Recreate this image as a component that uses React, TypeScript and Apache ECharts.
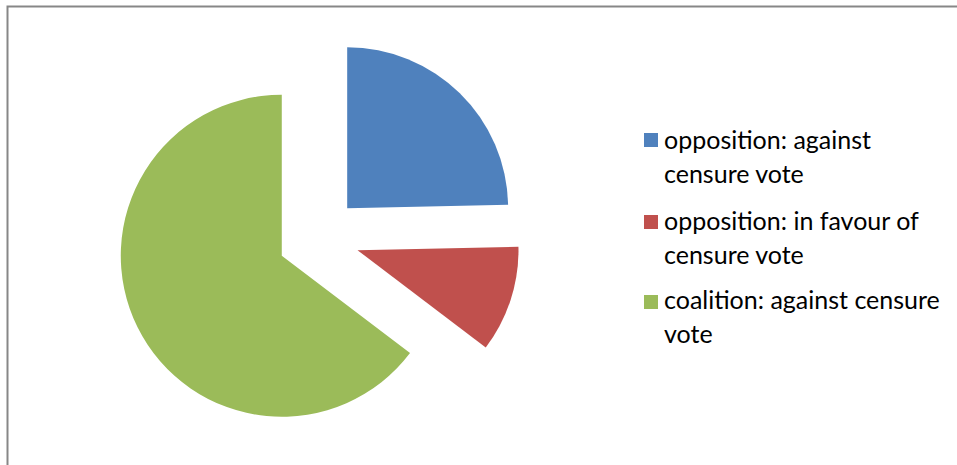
import React, { useEffect, useRef } from "react";
import * as echarts from "echarts";

const categories = [
  "opposition: against censure vote",
  "opposition: in favour of censure vote",
  "coalition: against censure vote",
];
const values = [37, 16, 97];
const legendLines = [
  ["opposition: against", "censure vote"],
  ["opposition: in favour of", "censure vote"],
  ["coalition: against censure", "vote"],
];
const colors = ["#4F81BD", "#C0504D", "#9BBB59"];

const FONT = "Lato, 'Open Sans', sans-serif";

export default function App() {
  const ref = useRef<HTMLDivElement>(null);
  useEffect(() => {
    if (!ref.current) return;
    const chart = echarts.init(ref.current, undefined, { renderer: "svg" });
    const squareTop = [133, 215, 295];
    const textTop = [122.5, 203.5, 282.5];
    const legendGraphics: any[] = [];
    categories.forEach((c, i) => {
      legendGraphics.push({
        type: "rect",
        shape: { x: 644, y: squareTop[i], width: 14, height: 14 },
        style: { fill: colors[i] },
        silent: true,
      });
      legendGraphics.push({
        type: "text",
        x: 664,
        y: textTop[i],
        style: {
          text: legendLines[i].join("\n"),
          fontSize: 25,
          lineHeight: 33.5,
          fontFamily: FONT,
          fill: "#000000",
          verticalAlign: "top",
          align: "left",
        },
        silent: true,
      });
    });
    chart.setOption({
      animation: false,
      backgroundColor: "#ffffff",
      graphic: [
        {
          type: "rect",
          shape: { x: 7.5, y: 6.5, width: 1000, height: 1000 },
          style: { fill: "none", stroke: "#878787", lineWidth: 2 },
          silent: true,
        },
        ...legendGraphics,
      ],
      series: [
        {
          type: "pie",
          center: [318.5, 237.5],
          radius: 161,
          startAngle: 90,
          clockwise: true,
          selectedMode: "multiple",
          selectedOffset: 41,
          avoidLabelOverlap: false,
          label: { show: false },
          labelLine: { show: false },
          emphasis: { disabled: true, scale: false },
          itemStyle: { borderWidth: 0 },
          data: categories.map((name, i) => ({
            name,
            value: values[i],
            selected: true,
            itemStyle: { color: colors[i] },
            select: { itemStyle: { color: colors[i] } },
          })),
        },
      ],
    });
    return () => chart.dispose();
  }, []);
  return (
    <div
      ref={ref}
      style={{ position: "absolute", left: 0, top: 0, width: 957, height: 465 }}
    />
  );
}
